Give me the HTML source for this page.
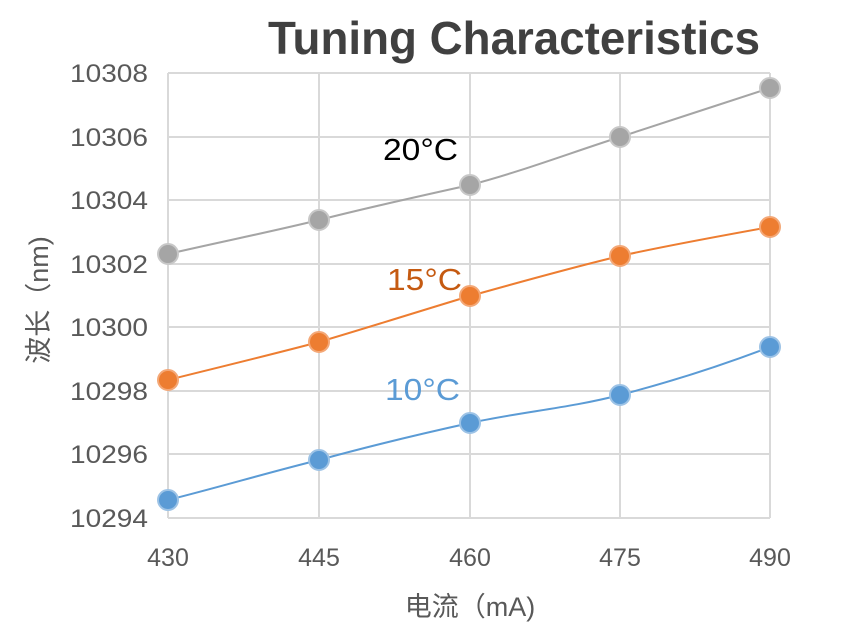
<!DOCTYPE html>
<html><head><meta charset="utf-8"><style>
body{margin:0;background:#fff;}
svg text{font-family:"Liberation Sans","Noto Sans CJK SC",sans-serif;}
</style></head><body>
<svg width="857" height="638" viewBox="0 0 857 638" xmlns="http://www.w3.org/2000/svg">
<rect width="857" height="638" fill="#fff"/>
<text x="514" y="54" text-anchor="middle" font-size="46" font-weight="bold" fill="#404040" textLength="492" lengthAdjust="spacingAndGlyphs">Tuning Characteristics</text>
<g stroke="#d9d9d9" stroke-width="2">
<line x1="168" y1="73" x2="770" y2="73"/><line x1="168" y1="137" x2="770" y2="137"/>
<line x1="168" y1="200" x2="770" y2="200"/><line x1="168" y1="264" x2="770" y2="264"/>
<line x1="168" y1="327" x2="770" y2="327"/><line x1="168" y1="391" x2="770" y2="391"/>
<line x1="168" y1="454" x2="770" y2="454"/><line x1="168" y1="518" x2="770" y2="518"/>
<line x1="168" y1="73" x2="168" y2="518"/><line x1="319" y1="73" x2="319" y2="518"/>
<line x1="470" y1="73" x2="470" y2="518"/><line x1="620" y1="73" x2="620" y2="518"/>
<line x1="770" y1="73" x2="770" y2="518"/>
</g>
<g font-size="25" fill="#595959" text-anchor="end">
<text x="148" y="82" textLength="78" lengthAdjust="spacingAndGlyphs">10308</text>
<text x="148" y="146" textLength="78" lengthAdjust="spacingAndGlyphs">10306</text>
<text x="148" y="209" textLength="78" lengthAdjust="spacingAndGlyphs">10304</text>
<text x="148" y="273" textLength="78" lengthAdjust="spacingAndGlyphs">10302</text>
<text x="148" y="336" textLength="78" lengthAdjust="spacingAndGlyphs">10300</text>
<text x="148" y="400" textLength="78" lengthAdjust="spacingAndGlyphs">10298</text>
<text x="148" y="463" textLength="78" lengthAdjust="spacingAndGlyphs">10296</text>
<text x="148" y="527" textLength="78" lengthAdjust="spacingAndGlyphs">10294</text>
</g>
<g font-size="25" fill="#595959" text-anchor="middle">
<text x="168" y="566">430</text><text x="319" y="566">445</text><text x="470" y="566">460</text>
<text x="620" y="566">475</text><text x="770" y="566">490</text>
<text x="470" y="616" font-size="27">电流（mA)</text>
<text transform="translate(48,300) rotate(-90)" font-size="27">波长（nm)</text>
</g>
<g fill="none" stroke-width="2">
<path d="M168,254 C220,242 270,232 319,220 C370,207 420,196 470,185 C520,172 570,153 620,137 C670,121 720,104 770,88" stroke="#a5a5a5"/>
<path d="M168,380 C220,367 270,355 319,342 C370,327 420,311 470,296 C520,282 570,268 620,256 C670,245 720,236 770,227" stroke="#ed7d31"/>
<path d="M168,500 C220,487 270,472 319,460 C370,446 420,434 470,423 C520,412 570,408 620,395 C670,382 720,366 770,347" stroke="#5b9bd5"/>
</g>
<g fill="#a5a5a5" stroke="#c8c8c8" stroke-width="2">
<circle cx="168" cy="254" r="10"/><circle cx="319" cy="220" r="10"/><circle cx="470" cy="185" r="10"/><circle cx="620" cy="137" r="10"/><circle cx="770" cy="88" r="10"/>
</g>
<g fill="#ed7d31" stroke="#f4a877" stroke-width="2">
<circle cx="168" cy="380" r="10"/><circle cx="319" cy="342" r="10"/><circle cx="470" cy="296" r="10"/><circle cx="620" cy="256" r="10"/><circle cx="770" cy="227" r="10"/>
</g>
<g fill="#5b9bd5" stroke="#9dc3e6" stroke-width="2">
<circle cx="168" cy="500" r="10"/><circle cx="319" cy="460" r="10"/><circle cx="470" cy="423" r="10"/><circle cx="620" cy="395" r="10"/><circle cx="770" cy="347" r="10"/>
</g>
<text x="383" y="160" font-size="31" fill="#000" textLength="75" lengthAdjust="spacingAndGlyphs">20°C</text>
<text x="387" y="290" font-size="31" fill="#c55a11" textLength="75" lengthAdjust="spacingAndGlyphs">15°C</text>
<text x="385" y="400" font-size="31" fill="#5b9bd5" textLength="75" lengthAdjust="spacingAndGlyphs">10°C</text>
</svg>
</body></html>
